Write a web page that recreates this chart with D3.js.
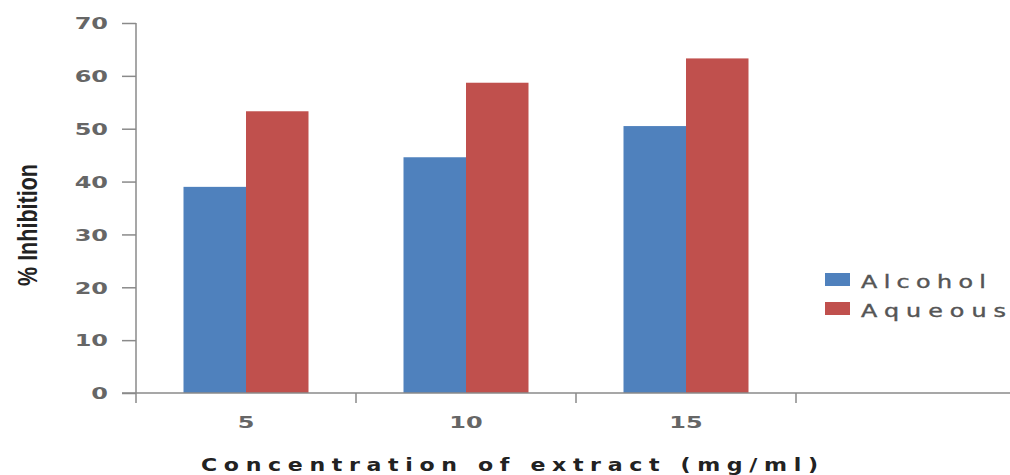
<!DOCTYPE html>
<html>
<head>
<meta charset="utf-8">
<script src="https://cdn.jsdelivr.net/npm/d3@7/dist/d3.min.js"></script>
<style>
  html, body { margin: 0; padding: 0; background: #fff; }
  svg { display: block; }
</style>
</head>
<body>
<svg id="chart" width="1010" height="475"></svg>
<script>
// Percent inhibition by extract concentration
const categories = ["5", "10", "15"];
const seriesNames = ["Alcohol", "Aqueous"];
const alcoholValues = [39.0, 44.6, 50.5];
const aqueousValues = [53.3, 58.7, 63.3];
const yTicks = [0, 10, 20, 30, 40, 50, 60, 70];
const colors = ["#4F81BD", "#C0504D"];

const svg = d3.select("#chart");
const plotLeft = 136, plotBottom = 393, plotTop = 23;
const slot = 220;

// one empty slot after the last category, as in the original layout
const x0 = d3.scaleBand().domain(categories).range([plotLeft, plotLeft + slot * categories.length]);
const x1 = d3.scaleBand().domain(seriesNames).range([0, x0.bandwidth()]).paddingInner(0).paddingOuter(0.76);
const y = d3.scaleLinear().domain([0, 70]).range([plotBottom, plotTop]);

const axisColor = "#8a8a8a";
const tickText = "#666";

// bars
const rows = categories.map((c, i) => ({ cat: c, vals: [alcoholValues[i], aqueousValues[i]] }));
svg.append("g").selectAll("g").data(rows).join("g")
  .attr("transform", d => `translate(${x0(d.cat)},0)`)
  .selectAll("rect").data(d => d.vals.map((v, j) => ({ name: seriesNames[j], v, j })))
  .join("rect")
  .attr("x", d => x1(d.name))
  .attr("width", x1.bandwidth())
  .attr("y", d => y(d.v))
  .attr("height", d => y(0) - y(d.v))
  .attr("fill", d => colors[d.j]);

// y axis
const yAxis = svg.append("g").attr("transform", `translate(${plotLeft},0)`)
  .call(d3.axisLeft(y).tickValues(yTicks).tickSize(14).tickFormat(d3.format("d")));
yAxis.select(".domain").remove();
yAxis.selectAll(".tick line").attr("stroke", axisColor).attr("stroke-width", 1.5);
yAxis.selectAll(".tick text").remove();
yAxis.selectAll(".tick").append("text")
  .attr("transform", "translate(-28,0) scale(1.5,1)")
  .attr("text-anchor", "end")
  .attr("dy", "0.36em")
  .attr("fill", tickText)
  .style("font-family", "DejaVu Sans")
  .style("font-weight", "bold")
  .style("font-size", "16px")
  .text(d => d);
svg.append("line")
  .attr("x1", plotLeft).attr("x2", plotLeft)
  .attr("y1", y(70)).attr("y2", plotBottom + 10)
  .attr("stroke", axisColor).attr("stroke-width", 1.5);

// x axis: line runs to the right edge, ticks on slot boundaries
svg.append("line")
  .attr("x1", plotLeft - 14).attr("x2", 1010)
  .attr("y1", plotBottom).attr("y2", plotBottom)
  .attr("stroke", axisColor).attr("stroke-width", 1.5);
const boundaries = categories.map(c => x0(c) + x0.bandwidth());
svg.append("g").selectAll("line").data(boundaries).join("line")
  .attr("x1", d => d).attr("x2", d => d)
  .attr("y1", plotBottom).attr("y2", plotBottom + 10)
  .attr("stroke", axisColor).attr("stroke-width", 1.5);
svg.append("g").selectAll("text").data(categories).join("text")
  .attr("transform", d => `translate(${x0(d) + x0.bandwidth() / 2},428) scale(1.5,1)`)
  .attr("text-anchor", "middle")
  .attr("fill", tickText)
  .style("font-family", "DejaVu Sans")
  .style("font-weight", "bold")
  .style("font-size", "16px")
  .text(d => d);

// axis titles (wide lettering: glyphs stretched, then spaced to fit)
const titleStretch = 1.3;
svg.append("text")
  .attr("transform", `translate(201,471) scale(${titleStretch},1)`)
  .attr("textLength", 617 / titleStretch).attr("lengthAdjust", "spacing")
  .attr("fill", "#222")
  .style("font-family", "DejaVu Sans")
  .style("font-weight", "bold")
  .style("font-size", "17px")
  .text("Concentration of extract (mg/ml)");

svg.append("text")
  .attr("transform", "translate(37,225) rotate(-90)")
  .attr("text-anchor", "middle")
  .attr("textLength", 122).attr("lengthAdjust", "spacingAndGlyphs")
  .attr("fill", "#222")
  .style("font-family", "Liberation Sans Narrow, Liberation Sans")
  .style("font-weight", "bold")
  .style("font-size", "27px")
  .text("% Inhibition");

// legend
const legendStretch = 1.4;
const legend = svg.append("g").selectAll("g").data(seriesNames).join("g")
  .attr("transform", (d, i) => `translate(825,${273 + i * 29})`);
legend.append("rect")
  .attr("width", 25).attr("height", 13)
  .attr("fill", (d, i) => colors[i]);
legend.append("text")
  .attr("transform", `translate(36,15) scale(${legendStretch},1)`)
  .attr("textLength", (d, i) => (i === 0 ? 125 : 145) / legendStretch)
  .attr("lengthAdjust", "spacing")
  .attr("fill", "#555")
  .style("font-family", "DejaVu Sans")
  .style("font-size", "17px")
  .style("stroke", "#555")
  .style("stroke-width", "0.4px")
  .text(d => d);
</script>
</body>
</html>
